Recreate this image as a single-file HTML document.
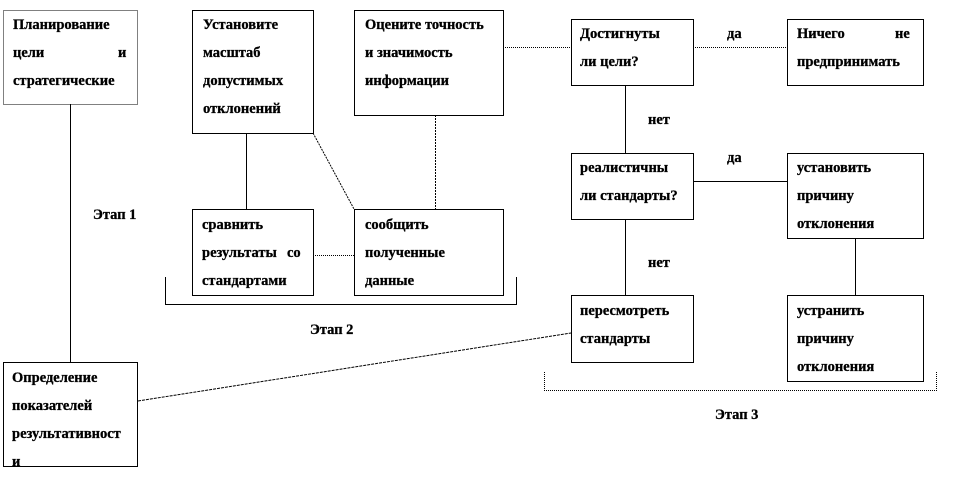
<!DOCTYPE html>
<html><head><meta charset="utf-8"><style>
html,body{margin:0;padding:0;background:#fff;}
svg{display:block}
text{font-family:"Liberation Serif","DejaVu Serif",serif;font-weight:bold;font-size:14.5px;fill:#000;stroke:#000;stroke-width:0.3;}
</style></head><body>
<svg width="964" height="496" viewBox="0 0 964 496" xmlns="http://www.w3.org/2000/svg">
<g fill="none" stroke="#000" stroke-width="1">
<line x1="70.5" y1="104" x2="70.5" y2="362"/>
<line x1="246.5" y1="133" x2="246.5" y2="209"/>
<line x1="313" y1="133" x2="354" y2="209" stroke-dasharray="2,1"/>
<line x1="435.5" y1="115" x2="435.5" y2="209" stroke-dasharray="2,1"/>
<line x1="313" y1="255.5" x2="354" y2="255.5" stroke-dasharray="1,1"/>
<line x1="503" y1="47.5" x2="571" y2="47.5" stroke-dasharray="1,1"/>
<line x1="693" y1="47.5" x2="787" y2="47.5" stroke-dasharray="1,1"/>
<line x1="625.5" y1="86" x2="625.5" y2="153"/>
<line x1="693" y1="181.5" x2="787" y2="181.5"/>
<line x1="625.5" y1="219" x2="625.5" y2="295"/>
<line x1="855.5" y1="238" x2="855.5" y2="295"/>
<line x1="138" y1="401" x2="571" y2="333" stroke-dasharray="3,1"/>
<polyline points="165.5,277 165.5,304.5 516.5,304.5 516.5,277"/>
<polyline points="544.5,372 544.5,390.5 936.5,390.5 936.5,372" stroke-dasharray="1,1"/>
<rect x="3.5" y="10.5" width="134" height="94" stroke-dasharray="1,1"/>
<rect x="192.5" y="10.5" width="121" height="123"/>
<rect x="354.5" y="10.5" width="149" height="105"/>
<rect x="192.5" y="209.5" width="121" height="86"/>
<rect x="354.5" y="209.5" width="149" height="86"/>
<rect x="571.5" y="19.5" width="122" height="66"/>
<rect x="787.5" y="19.5" width="136" height="66"/>
<rect x="571.5" y="153.5" width="122" height="66"/>
<rect x="787.5" y="153.5" width="136" height="85"/>
<rect x="571.5" y="295.5" width="122" height="67"/>
<rect x="787.5" y="295.5" width="136" height="86"/>
<rect x="3.5" y="362.5" width="134" height="104"/>
</g>
<text x="13" y="29">Планирование</text>
<text x="13" y="57">цели</text><text x="118" y="57">и</text>
<text x="13" y="85">стратегические</text>

<text x="203" y="29">Установите</text>
<text x="203" y="57">масштаб</text>
<text x="203" y="85">допустимых</text>
<text x="203" y="113">отклонений</text>

<text x="365" y="29">Оцените точность</text>
<text x="365" y="57">и значимость</text>
<text x="365" y="85">информации</text>

<text x="202" y="229">сравнить</text>
<text x="202" y="257">результаты</text><text x="287" y="257">со</text>
<text x="202" y="285">стандартами</text>

<text x="365" y="229">сообщить</text>
<text x="365" y="257">полученные</text>
<text x="365" y="285">данные</text>

<text x="580" y="38">Достигнуты</text>
<text x="580" y="66">ли цели?</text>

<text x="797" y="38">Ничего</text><text x="895" y="38">не</text>
<text x="797" y="66">предпринимать</text>

<text x="580" y="172">реалистичны</text>
<text x="580" y="200">ли стандарты?</text>

<text x="797" y="172">установить</text>
<text x="797" y="200">причину</text>
<text x="797" y="228">отклонения</text>

<text x="580" y="315">пересмотреть</text>
<text x="580" y="343">стандарты</text>

<text x="797" y="315">устранить</text>
<text x="797" y="343">причину</text>
<text x="797" y="371">отклонения</text>

<text x="12" y="382">Определение</text>
<text x="12" y="410">показателей</text>
<text x="12" y="438">результативност</text>
<svg x="0" y="455" width="140" height="11" overflow="hidden"><text x="12" y="11">и</text></svg>

<text x="727" y="38">да</text>
<text x="727" y="162">да</text>
<text x="648" y="124">нет</text>
<text x="648" y="267">нет</text>

<text x="93" y="219">Этап 1</text>
<text x="310" y="334">Этап 2</text>
<text x="715" y="419">Этап 3</text>
</svg>
</body></html>
